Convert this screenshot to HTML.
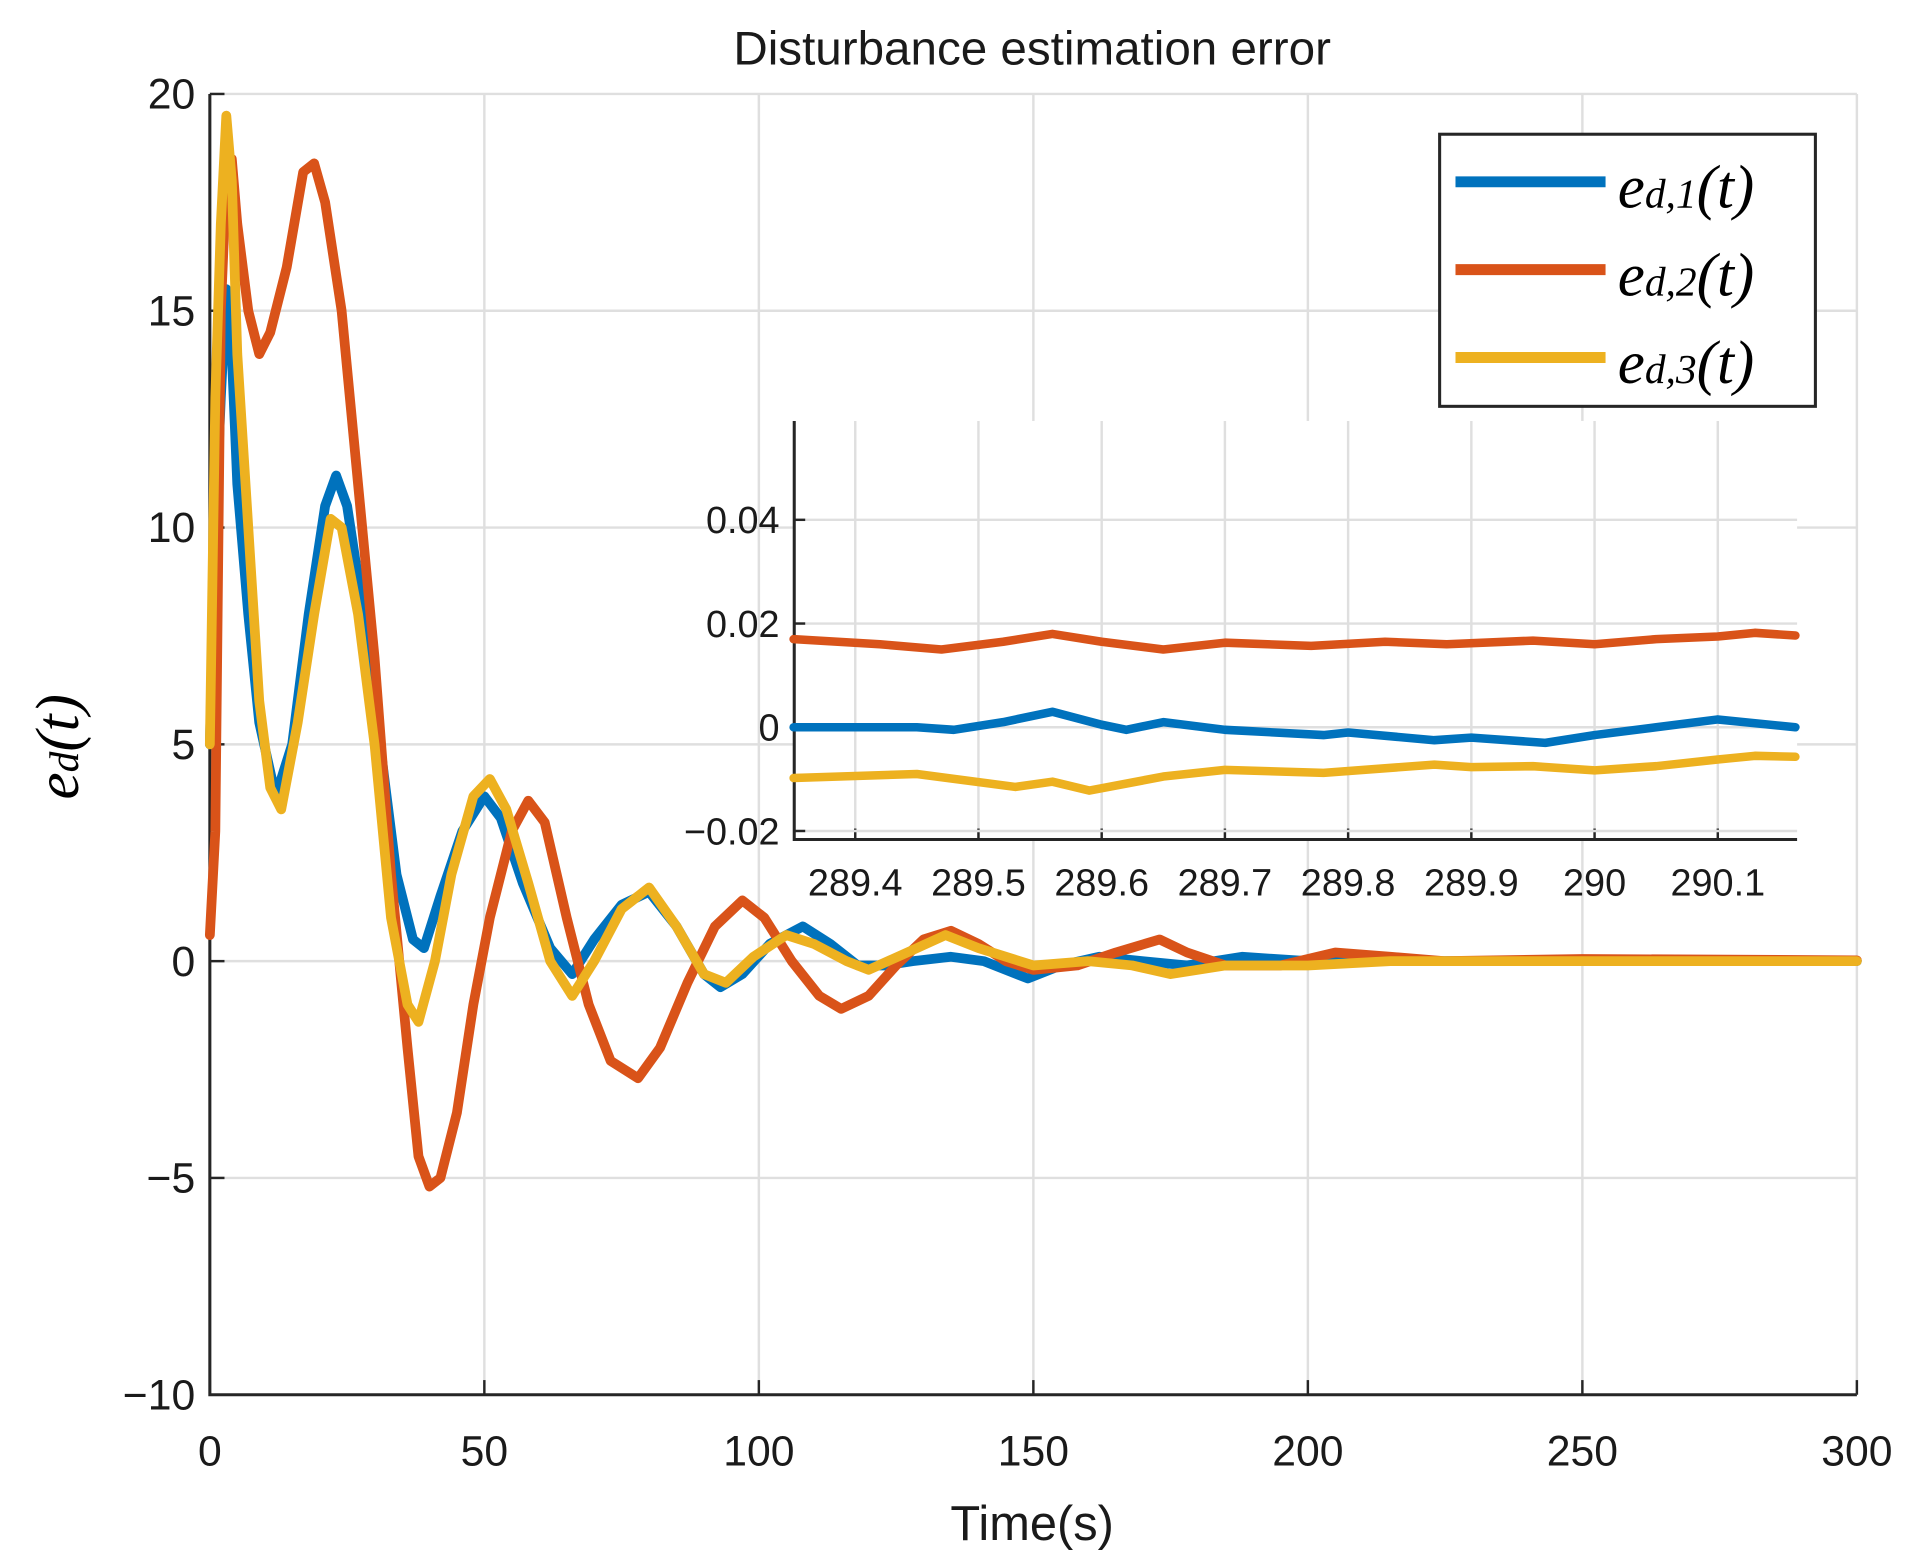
<!DOCTYPE html>
<html><head><meta charset="utf-8"><style>
html,body{margin:0;padding:0;background:#fff;}
svg{display:block;}
text{font-family:"Liberation Sans",sans-serif;fill:#1a1a1a;}
.m{font-family:"Liberation Serif",serif;font-style:italic;fill:#000;}
</style></head><body>
<svg id="chart" width="1913" height="1568" viewBox="0 0 1568 1285" preserveAspectRatio="none" xmlns="http://www.w3.org/2000/svg">
<g id="main"></g>
<g id="inset"></g>
<g id="legend">
<rect x="1180" y="110" width="308" height="223" fill="#fff" stroke="#262626" stroke-width="2.5"/>
<g><line x1="1193" y1="149" x2="1316" y2="149" stroke="#0072BD" stroke-width="9"/><text class="m" x="1326" y="170" font-size="50">e<tspan font-size="34">d,1</tspan>(t)</text></g>
<g><line x1="1193" y1="221" x2="1316" y2="221" stroke="#D95319" stroke-width="9"/><text class="m" x="1326" y="242" font-size="50">e<tspan font-size="34">d,2</tspan>(t)</text></g>
<g><line x1="1193" y1="293" x2="1316" y2="293" stroke="#EDB120" stroke-width="9"/><text class="m" x="1326" y="314" font-size="50">e<tspan font-size="34">d,3</tspan>(t)</text></g>
</g>
</svg>
<script>
const xTicks=[0,50,100,150,200,250,300];
const yTicks=[-10,-5,0,5,10,15,20];
const s1T=[0,1,2,3,4,5,7,9,12,15,18,21,23,25,28,31,34,37,39,42,46,50,53,57,62,66,70,75,80,85,90,93,97,102,108,113,118,123,128,135,141,149,155,162,170,178,188,200,215,230,260,300];
const s1V=[5,10,13,15.5,14,11,8,5.5,3.8,5,8,10.5,11.2,10.5,8,5,2,0.5,0.3,1.5,3,3.8,3.3,1.8,0.3,-0.3,0.5,1.3,1.6,0.8,-0.3,-0.6,-0.3,0.4,0.8,0.4,-0.1,-0.1,0,0.1,0,-0.4,-0.1,0.1,0,-0.1,0.1,0,0,0,0,0];
const s2T=[0,1,2,3,4,5,7,9,11,14,17,19,21,24,27,30,33,36,38,40,42,45,48,51,55,58,61,65,69,73,78,82,87,92,97,101,106,111,115,120,125,130,135,140,145,150,158,165,173,178,185,195,205,215,225,250,300];
const s2V=[0.6,3,15,18,18.5,17,15,14,14.5,16,18.2,18.4,17.5,15,11,7,2,-2,-4.5,-5.2,-5,-3.5,-1,1,3,3.7,3.2,1,-1,-2.3,-2.7,-2,-0.5,0.8,1.4,1,0,-0.8,-1.1,-0.8,-0.1,0.5,0.7,0.4,0,-0.2,-0.1,0.2,0.5,0.2,-0.1,-0.1,0.2,0.1,0,0.05,0.02];
const s3T=[0,1,2,3,4,5,7,9,11,13,16,19,22,24,27,30,33,36,38,41,44,48,51,54,58,62,66,70,75,80,85,90,94,99,105,110,116,120,127,134,140,150,160,168,175,185,200,215,250,300];
const s3V=[5,13,17,19.5,18,14,10,6,4,3.5,5.5,8,10.2,10,8,5,1,-1,-1.4,0,2,3.8,4.2,3.5,1.8,0,-0.8,0,1.2,1.7,0.8,-0.3,-0.5,0.1,0.6,0.4,0,-0.2,0.2,0.6,0.3,-0.1,0,-0.1,-0.3,-0.1,-0.1,0,0,0];
const iXTicks=[289.4,289.5,289.6,289.7,289.8,289.9,290,290.1];
const iXLabels=["289.4","289.5","289.6","289.7","289.8","289.9","290","290.1"];
const iYTicks=[-0.02,0,0.02,0.04];
const iYLabels=["\u22120.02","0","0.02","0.04"];
const i1T=[289.35,289.4,289.45,289.48,289.52,289.56,289.6,289.62,289.65,289.7,289.78,289.8,289.87,289.9,289.96,290.0,290.05,290.1,290.163];
const i1V=[0,0,0,-0.0005,0.001,0.003,0.0005,-0.0005,0.001,-0.0005,-0.0015,-0.001,-0.0025,-0.002,-0.003,-0.0015,0,0.0015,0];
const i2T=[289.35,289.42,289.47,289.52,289.56,289.6,289.65,289.7,289.77,289.83,289.88,289.95,290.0,290.05,290.1,290.13,290.163];
const i2V=[0.017,0.016,0.015,0.0165,0.018,0.0165,0.015,0.0163,0.0157,0.0165,0.016,0.0167,0.016,0.017,0.0175,0.0182,0.0177];
const i3T=[289.35,289.45,289.53,289.56,289.59,289.65,289.7,289.78,289.87,289.9,289.95,290.0,290.05,290.1,290.13,290.163];
const i3V=[-0.0098,-0.009,-0.0115,-0.0105,-0.0122,-0.0095,-0.0082,-0.0088,-0.0072,-0.0077,-0.0075,-0.0083,-0.0075,-0.0062,-0.0055,-0.0057];

const NS="http://www.w3.org/2000/svg";
function mk(p,tag,a){const e=document.createElementNS(NS,tag);for(const k in a)e.setAttribute(k,a[k]);p.appendChild(e);return e;}
const L=172,R=1522,T=77,B=1143;
const X=v=>L+(v-0)/300*(R-L);
const Y=v=>B-(v+10)/30*(B-T);
const main=document.getElementById('main');
mk(main,'rect',{x:L,y:T,width:R-L,height:B-T,fill:'#fff'});
xTicks.forEach(v=>{
 const g=mk(main,'line',{x1:X(v),x2:X(v),y1:T,y2:B,stroke:'#dfdfdf','stroke-width':2});
 
 
 const t=mk(main,'text',{x:X(v),y:B+58,'font-size':35,'text-anchor':'middle'});t.textContent=v;
 
 
 mk(main,'line',{x1:X(v),x2:X(v),y1:B,y2:B-12,stroke:'#262626','stroke-width':2});
});
yTicks.forEach(v=>{
 const g=mk(main,'line',{x1:L,x2:R,y1:Y(v),y2:Y(v),stroke:'#dfdfdf','stroke-width':2});
 
 
 const t=mk(main,'text',{x:L-12,y:Y(v)+12,'font-size':35,'text-anchor':'end'});t.textContent=v<0?'\u2212'+(-v):v;
 
 
 mk(main,'line',{x1:L,x2:L+12,y1:Y(v),y2:Y(v),stroke:'#262626','stroke-width':2});
});
mk(main,'path',{d:`M${L},${T}V${B}H${R}`,fill:'none',stroke:'#262626','stroke-width':2.5});
function series(p,ts,vs,fx,fy,col,w,name){
 const d=ts.map((t,i)=>(i?'L':'M')+fx(t).toFixed(1)+','+fy(vs[i]).toFixed(1)).join('');
 const e=mk(p,'path',{d:d,fill:'none',stroke:col,'stroke-width':w,'stroke-linejoin':'round','stroke-linecap':'round'});
 
 
}
series(main,s1T,s1V,X,Y,'#0072BD',8,'series-ed1');
series(main,s2T,s2V,X,Y,'#D95319',8,'series-ed2');
series(main,s3T,s3V,X,Y,'#EDB120',8,'series-ed3');
let t=mk(main,'text',{x:846,y:53,'font-size':39,'text-anchor':'middle',fill:'#000'});t.textContent='Disturbance estimation error';


t=mk(main,'text',{x:846,y:1262,'font-size':40,'text-anchor':'middle'});t.textContent='Time(s)';


t=mk(main,'text',{x:0,y:0,'font-size':50,'text-anchor':'middle',class:'m',transform:'translate(64,612) rotate(-90)'});
t.innerHTML='e<tspan font-size="34">d</tspan>(t)';



// inset
const iL=651,iR=1473,iT=345,iB=688;
const IX=v=>701+(v-289.4)/0.1*101;
const IY=v=>596-v/0.02*85;
const ins=document.getElementById('inset');
mk(ins,'rect',{x:iL,y:iT,width:iR-iL,height:iB-iT,fill:'#fff'});
iXTicks.forEach((v,i)=>{
 const g=mk(ins,'line',{x1:IX(v),x2:IX(v),y1:iT,y2:iB,stroke:'#dfdfdf','stroke-width':2});
 
 
 mk(ins,'line',{x1:IX(v),x2:IX(v),y1:iB,y2:iB-9,stroke:'#262626','stroke-width':2});
 const tt=mk(ins,'text',{x:IX(v),y:iB+46,'font-size':31,'text-anchor':'middle'});tt.textContent=iXLabels[i];
 
 
});
iYTicks.forEach((v,i)=>{
 const g=mk(ins,'line',{x1:iL,x2:iR,y1:IY(v),y2:IY(v),stroke:'#dfdfdf','stroke-width':2});
 
 
 mk(ins,'line',{x1:iL,x2:iL+9,y1:IY(v),y2:IY(v),stroke:'#262626','stroke-width':2});
 const tt=mk(ins,'text',{x:iL-12,y:IY(v)+11,'font-size':31,'text-anchor':'end'});tt.textContent=iYLabels[i];
 
 
});
mk(ins,'path',{d:`M${iL},${iT}V${iB}H${iR}`,fill:'none',stroke:'#262626','stroke-width':2.5});
series(ins,i1T,i1V,IX,IY,'#0072BD',7,'inset-series-ed1');
series(ins,i2T,i2V,IX,IY,'#D95319',7,'inset-series-ed2');
series(ins,i3T,i3V,IX,IY,'#EDB120',7,'inset-series-ed3');
</script>
</body></html>
